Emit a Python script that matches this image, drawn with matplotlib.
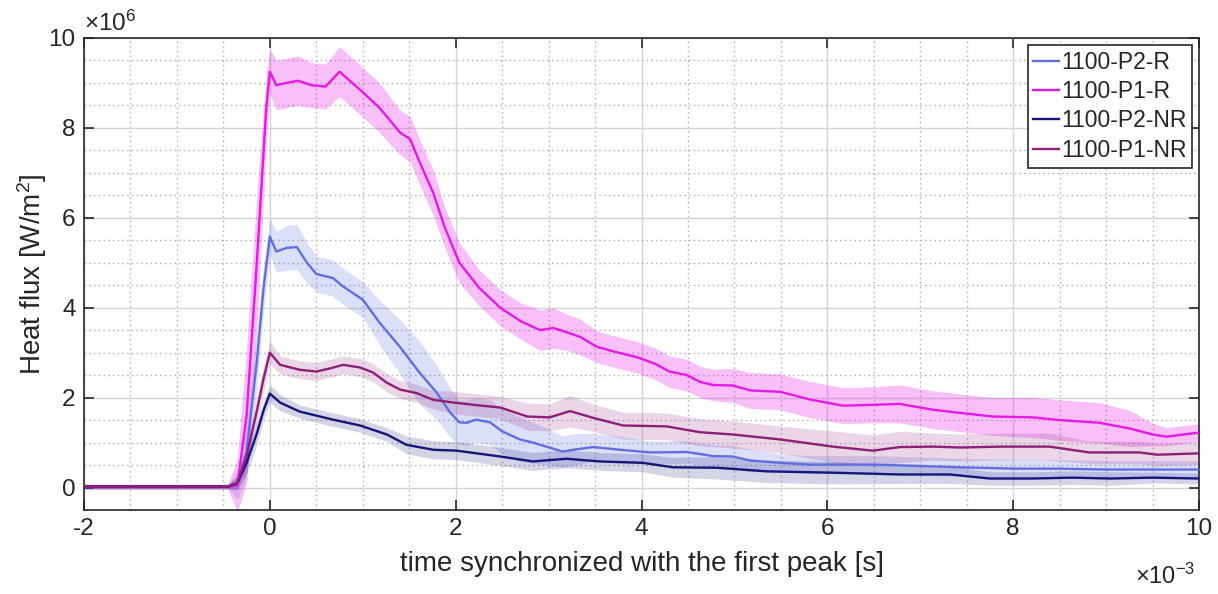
import matplotlib
matplotlib.use("Agg")
import matplotlib.pyplot as plt
import numpy as np
from matplotlib.ticker import MultipleLocator

plt.rcParams['font.family'] = ['Liberation Sans', 'DejaVu Sans']
plt.rcParams['mathtext.default'] = 'regular'
plt.rcParams['axes.unicode_minus'] = False

# ---------------- data (time in ms, heat flux in MW/m^2) ----------------
series_names = ["1100-P2-R", "1100-P1-R", "1100-P2-NR", "1100-P1-NR"]

t_p2r = [-2, -0.45, -0.35, -0.25, -0.14, -0.07, 0, 0.07, 0.18, 0.29, 0.4, 0.5, 0.68, 0.79,
         1.0, 1.18, 1.4, 1.61, 1.8, 1.94, 2.04, 2.12, 2.22, 2.37, 2.5, 2.69, 2.83, 3.01,
         3.15, 3.3, 3.48, 3.77, 4.1, 4.49, 4.77, 4.98, 5.17, 5.49, 5.81, 6.49, 7.14, 7.43,
         8.0, 8.5, 9.0, 9.5, 10]
q_p2r = [0.02, 0.02, 0.05, 0.8, 2.8, 4.4, 5.58, 5.25, 5.33, 5.35, 5.0, 4.75, 4.66, 4.47,
         4.18, 3.67, 3.13, 2.56, 2.1, 1.67, 1.45, 1.44, 1.51, 1.45, 1.25, 1.07, 1.0, 0.89,
         0.8, 0.85, 0.9, 0.84, 0.78, 0.79, 0.7, 0.69, 0.6, 0.55, 0.51, 0.51, 0.47, 0.45,
         0.42, 0.42, 0.4, 0.4, 0.4]
s_p2r = [0.05, 0.05, 0.3, 0.6, 0.6, 0.5, 0.4, 0.45, 0.5, 0.5, 0.45, 0.4, 0.4, 0.4,
         0.4, 0.5, 0.6, 0.7, 0.6, 0.55, 0.5, 0.5, 0.5, 0.5, 0.5, 0.5, 0.45, 0.4,
         0.35, 0.35, 0.3, 0.3, 0.25, 0.25, 0.25, 0.25, 0.25, 0.2, 0.2, 0.2, 0.2, 0.2,
         0.2, 0.2, 0.2, 0.2, 0.2]

t_p1r = [-2, -0.45, -0.35, -0.25, -0.14, -0.04, 0, 0.07, 0.18, 0.3, 0.45, 0.6, 0.75, 0.97,
         1.18, 1.4, 1.51, 1.61, 1.76, 1.88, 2.04, 2.25, 2.48, 2.7, 2.91, 3.05, 3.2, 3.34,
         3.52, 3.75, 3.95, 4.15, 4.3, 4.49, 4.63, 4.77, 4.98, 5.17, 5.49, 5.81, 6.17, 6.49,
         6.78, 7.14, 7.43, 7.78, 8.21, 8.5, 8.93, 9.26, 9.5, 9.65, 9.83, 10]
q_p1r = [0.02, 0.02, 0.05, 1.6, 5.0, 8.4, 9.25, 8.95, 9.0, 9.05, 8.95, 8.92, 9.25, 8.85,
         8.45, 7.9, 7.75, 7.25, 6.55, 5.8, 5.0, 4.45, 4.0, 3.7, 3.5, 3.55, 3.45, 3.35,
         3.13, 3.0, 2.9, 2.75, 2.58, 2.5, 2.35, 2.28, 2.27, 2.16, 2.13, 1.96, 1.82, 1.84,
         1.86, 1.73, 1.66, 1.58, 1.56, 1.5, 1.44, 1.31, 1.18, 1.13, 1.18, 1.22]
s_p1r = [0.05, 0.05, 0.6, 1.5, 1.5, 0.8, 0.5, 0.55, 0.55, 0.55, 0.5, 0.5, 0.55, 0.55,
         0.55, 0.5, 0.5, 0.5, 0.5, 0.45, 0.45, 0.4, 0.4, 0.4, 0.45, 0.45, 0.4, 0.4,
         0.35, 0.35, 0.35, 0.35, 0.35, 0.35, 0.35, 0.35, 0.38, 0.4, 0.4, 0.4, 0.4, 0.4,
         0.42, 0.42, 0.42, 0.42, 0.45, 0.45, 0.45, 0.4, 0.25, 0.2, 0.2, 0.2]

t_p2nr = [-2, -0.45, -0.35, -0.25, -0.14, -0.07, 0, 0.11, 0.32, 0.68, 0.97, 1.26, 1.47, 1.76,
          2.01, 2.48, 2.83, 3.19, 3.55, 4.01, 4.34, 4.81, 5.35, 6.06, 6.78, 7.32, 7.75, 8.21,
          8.64, 9.04, 9.5, 10]
q_p2nr = [0.02, 0.02, 0.1, 0.55, 1.2, 1.7, 2.09, 1.89, 1.69, 1.51, 1.38, 1.18, 0.95, 0.84,
          0.82, 0.69, 0.58, 0.64, 0.58, 0.55, 0.45, 0.44, 0.36, 0.33, 0.29, 0.29, 0.2, 0.2,
          0.22, 0.2, 0.22, 0.2]
s_p2nr = [0.05, 0.05, 0.15, 0.25, 0.25, 0.2, 0.2, 0.18, 0.15, 0.15, 0.15, 0.15, 0.2, 0.2,
          0.2, 0.2, 0.2, 0.2, 0.2, 0.2, 0.22, 0.25, 0.25, 0.25, 0.2, 0.2, 0.15, 0.15,
          0.15, 0.15, 0.12, 0.12]

t_p1nr = [-2, -0.45, -0.35, -0.25, -0.14, -0.07, 0, 0.11, 0.32, 0.5, 0.65, 0.79, 0.97, 1.11,
          1.26, 1.4, 1.58, 1.76, 1.94, 2.19, 2.48, 2.77, 3.01, 3.23, 3.48, 3.8, 4.27, 4.63,
          4.98, 5.49, 6.06, 6.49, 6.78, 7.14, 7.43, 7.86, 8.39, 8.82, 9.36, 9.55, 10]
q_p1nr = [0.02, 0.02, 0.1, 0.7, 1.7, 2.4, 3.0, 2.73, 2.62, 2.58, 2.65, 2.73, 2.67, 2.56,
          2.33, 2.18, 2.1, 1.95, 1.9, 1.84, 1.78, 1.58, 1.56, 1.7, 1.55, 1.38, 1.36, 1.23,
          1.18, 1.07, 0.91, 0.82, 0.9, 0.91, 0.89, 0.91, 0.91, 0.78, 0.78, 0.73, 0.76]
s_p1nr = [0.05, 0.05, 0.15, 0.3, 0.3, 0.3, 0.25, 0.2, 0.2, 0.2, 0.2, 0.2, 0.2, 0.2,
          0.2, 0.2, 0.2, 0.2, 0.25, 0.25, 0.25, 0.3, 0.3, 0.35, 0.3, 0.3, 0.3, 0.3,
          0.3, 0.3, 0.35, 0.35, 0.35, 0.3, 0.3, 0.3, 0.3, 0.25, 0.25, 0.25, 0.25]

colors = ["#5f6fe0", "#e619e6", "#16167a", "#8e1f78"]
band_alpha = [0.22, 0.28, 0.18, 0.18]

# ---------------- figure ----------------
TXT = "#262626"
fig = plt.figure(figsize=(12.18, 5.94), dpi=100)
ax = fig.add_axes([84 / 1218, 1 - 510 / 594, (1199 - 84) / 1218, (510 - 38) / 594])

data = [(t_p2r, q_p2r, s_p2r), (t_p1r, q_p1r, s_p1r),
        (t_p2nr, q_p2nr, s_p2nr), (t_p1nr, q_p1nr, s_p1nr)]

for (t, q, s), c, a in zip(data, colors, band_alpha):
    t = np.asarray(t); q = np.asarray(q); s = np.asarray(s)
    ax.fill_between(t, q - s, q + s, color=c, alpha=a, linewidth=0, zorder=2)

for (t, q, s), c, name in zip(data, colors, series_names):
    ax.plot(t, q, color=c, lw=1.7, zorder=3, label=name)

ax.set_xlim(-2, 10)
ax.set_ylim(-0.5, 10)
ax.xaxis.set_major_locator(MultipleLocator(2))
ax.xaxis.set_minor_locator(MultipleLocator(0.5))
ax.yaxis.set_major_locator(MultipleLocator(2))
ax.yaxis.set_minor_locator(MultipleLocator(0.5))

ax.grid(which='major', color='#d4d4d4', lw=1.0, ls='-', zorder=0)
ax.grid(which='minor', color='#b8b8b8', lw=1.0, ls=(0, (1.2, 2.2)), zorder=0)
ax.set_axisbelow(True)

ax.tick_params(which='major', direction='in', length=7, width=1.2, colors=TXT,
               labelsize=17.5, top=True, right=True, pad=6)
ax.tick_params(which='minor', length=0, top=True, right=True)
for sp in ax.spines.values():
    sp.set_color(TXT)
    sp.set_linewidth(1.2)

ax.set_xlabel("time synchronized with the first peak [s]", fontsize=20, color=TXT, labelpad=8)
ax.set_ylabel("Heat flux [W/m$^2$]", fontsize=20, color=TXT, labelpad=0)

ax.text(0.0, 1.005, r"$\times10^{6}$", transform=ax.transAxes, ha='left', va='bottom',
        fontsize=17.5, color=TXT)
fig.text(1195 / 1218, 10 / 594, r"$\times10^{-3}$", ha='right', va='baseline',
         fontsize=17, color=TXT)

leg = ax.legend(loc='upper right', fontsize=16.5, frameon=True, fancybox=False,
                edgecolor=TXT, framealpha=1, handlelength=1.1, handletextpad=0.1,
                borderpad=0.25, labelspacing=0.28, borderaxespad=0.3)
leg.get_frame().set_linewidth(1.2)
for txt in leg.get_texts():
    txt.set_color(TXT)

fig.savefig("out.png", dpi=100)
